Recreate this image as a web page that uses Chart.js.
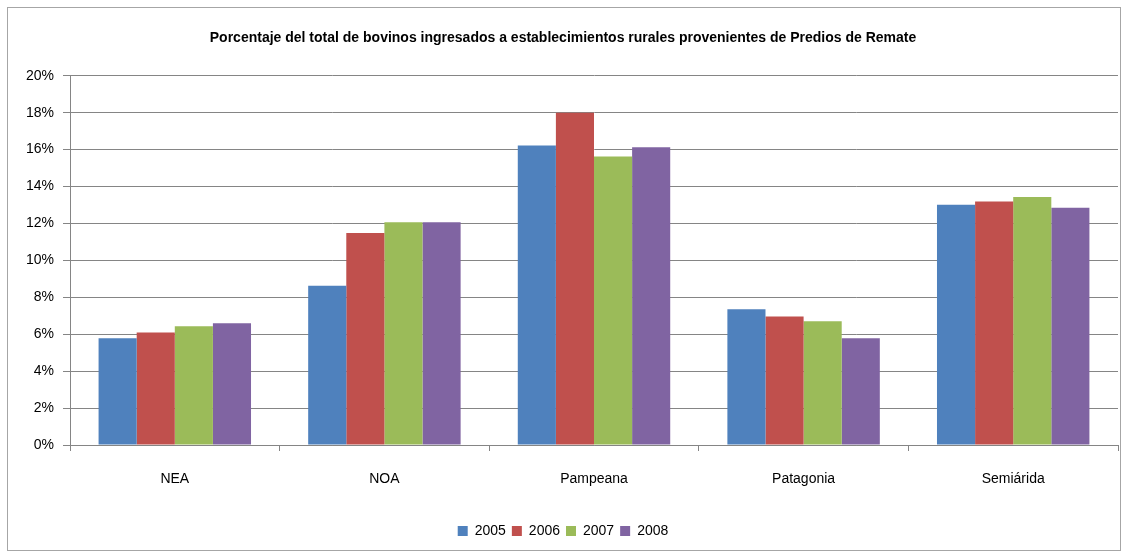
<!DOCTYPE html>
<html>
<head>
<meta charset="utf-8">
<script src="https://cdn.jsdelivr.net/npm/chart.js@4"></script>
<style>
  html, body { margin: 0; padding: 0; background: #fff; }
  #wrap { position: relative; width: 1128px; height: 558px; }
</style>
</head>
<body>
<div id="wrap"><canvas id="chart" width="1128" height="558"></canvas></div>
<script>
const regions = ['NEA', 'NOA', 'Pampeana', 'Patagonia', 'Semiárida'];
const years = ['2005', '2006', '2007', '2008'];
const values2005 = [5.78, 8.62, 16.22, 7.35, 13.02];
const values2006 = [6.09, 11.49, 18.0, 6.96, 13.19];
const values2007 = [6.43, 12.07, 15.63, 6.70, 13.44];
const values2008 = [6.60, 12.07, 16.13, 5.78, 12.85];
const yTicks = [0, 2, 4, 6, 8, 10, 12, 14, 16, 18, 20];
const colors = ['#4F81BD', '#C0504D', '#9BBB59', '#8064A2'];
const series = [values2005, values2006, values2007, values2008];

const FONT = "'Liberation Sans', sans-serif";

// outer frame like the spreadsheet chart box
const framePlugin = {
  id: 'frame',
  afterDraw(chart) {
    const c = chart.ctx;
    c.save();
    c.strokeStyle = '#a6a6a6';
    c.lineWidth = 1;
    c.strokeRect(7.5, 7.5, 1113, 543);
    c.restore();
  }
};

new Chart(document.getElementById('chart'), {
  type: 'bar',
  data: {
    labels: regions,
    datasets: years.map((y, i) => ({
      label: y,
      data: series[i],
      backgroundColor: colors[i],
      borderWidth: 0,
      categoryPercentage: 4 / 5.5,
      barPercentage: 1
    }))
  },
  plugins: [framePlugin],
  options: {
    responsive: false,
    animation: false,
    layout: { padding: { left: 8, right: 10, top: 22, bottom: 10 } },
    plugins: {
      title: {
        display: true,
        text: 'Porcentaje del total de bovinos ingresados a establecimientos rurales provenientes de Predios de Remate',
        color: '#000',
        font: { family: FONT, size: 14, weight: 'bold' },
        padding: { top: 8, bottom: 29 }
      },
      legend: {
        position: 'bottom',
        labels: {
          color: '#000',
          font: { family: FONT, size: 14 },
          boxWidth: 10,
          boxHeight: 10,
          padding: 6
        }
      },
      tooltip: { enabled: false }
    },
    scales: {
      y: {
        min: 0,
        max: 20,
        afterBuildTicks(scale) {
          scale.ticks = yTicks.map(v => ({ value: v }));
        },
        afterFit(scale) { scale.width = 62; },
        ticks: {
          color: '#000',
          font: { family: FONT, size: 14 },
          padding: 9,
          callback: v => v + '%'
        },
        grid: { color: '#858585', lineWidth: 1, tickLength: 7 },
        border: { color: '#858585', width: 1 }
      },
      x: {
        afterFit(scale) { scale.height = 73; },
        ticks: {
          color: '#000',
          font: { family: FONT, size: 14 },
          padding: 20
        },
        grid: { drawOnChartArea: false, color: '#858585', tickLength: 6 },
        border: { color: '#858585', width: 1 }
      }
    }
  }
});
</script>
</body>
</html>
